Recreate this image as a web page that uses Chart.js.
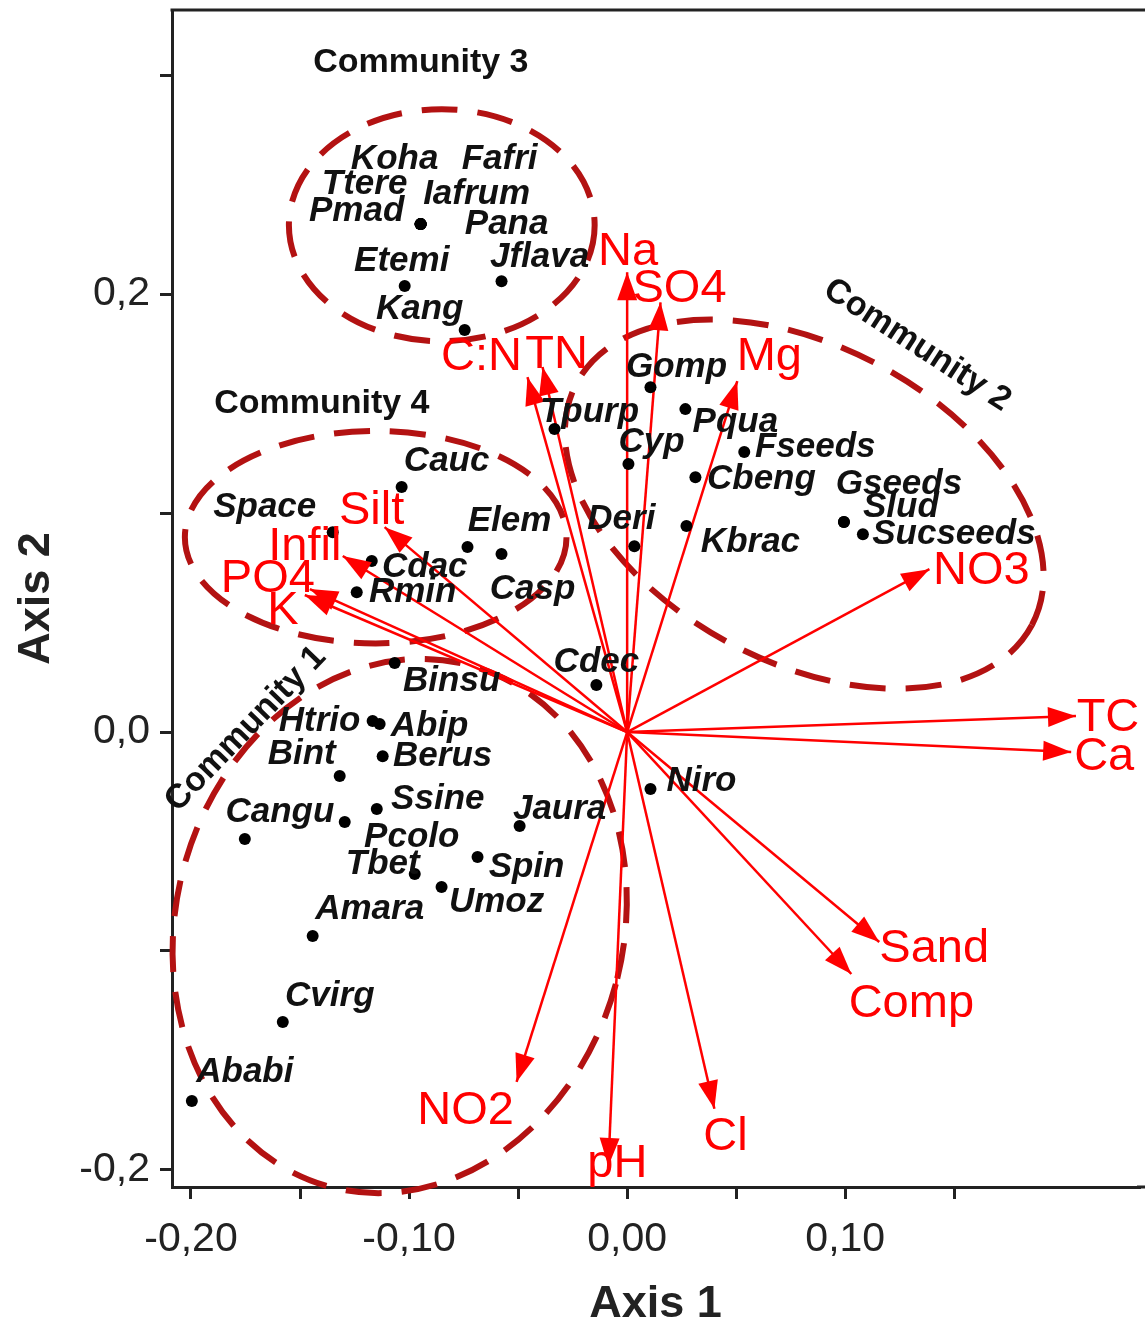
<!DOCTYPE html>
<html>
<head>
<meta charset="utf-8">
<title>CCA biplot</title>
<script src="https://cdn.jsdelivr.net/npm/chart.js@4.4.1/dist/chart.umd.min.js"></script>
<style>
  html, body { margin: 0; padding: 0; background: #fff; }
  #wrap { width: 1145px; height: 1327px; }
</style>
</head>
<body>
<div id="wrap"><canvas id="cca" width="1145" height="1327"></canvas></div>
<script>
// ---- species scores ----
const speciesNames = ['Koha', 'Fafri', 'Ttere', 'Iafrum', 'Pmad', 'Pana', 'Etemi', 'Jflava', 'Kang',
  'Cauc', 'Space', 'Elem', 'Casp', 'Cdac', 'Rmin',
  'Gomp', 'Tpurp', 'Pqua', 'Cyp', 'Fseeds', 'Cbeng', 'Deri', 'Kbrac', 'Gseeds', 'Slud', 'Sucseeds',
  'Binsu', 'Cdec', 'Htrio', 'Abip', 'Bint', 'Berus', 'Ssine', 'Cangu', 'Pcolo', 'Jaura', 'Tbet',
  'Spin', 'Umoz', 'Amara', 'Cvirg', 'Ababi', 'Niro'];
const speciesAxis1 = [-0.0947, -0.0947, -0.0947, -0.0947, -0.0947, -0.0947, -0.1020, -0.0576, -0.0745,
  -0.1034, -0.1350, -0.0732, -0.0576, -0.1171, -0.1240,
  0.0107, -0.0333, 0.0267, 0.0006, 0.0537, 0.0313, 0.0033, 0.0272, 0.0994, 0.0994, 0.1081,
  -0.1066, -0.0141, -0.1167, -0.1135, -0.1318, -0.1121, -0.1148, -0.1753, -0.1295, -0.0493, -0.0974,
  -0.0686, -0.0851, -0.1442, -0.1579, -0.1996, 0.0107];
const speciesAxis2 = [0.2320, 0.2320, 0.2320, 0.2320, 0.2320, 0.2320, 0.2037, 0.2059, 0.1836,
  0.1119, 0.0913, 0.0845, 0.0813, 0.0781, 0.0639,
  0.1575, 0.1384, 0.1475, 0.1224, 0.1279, 0.1164, 0.0849, 0.0941, 0.0959, 0.0959, 0.0904,
  0.0315, 0.0215, 0.0050, 0.0037, -0.0201, -0.0110, -0.0352, -0.0489, -0.0411, -0.0429, -0.0648,
  -0.0571, -0.0708, -0.0932, -0.1324, -0.1685, -0.0260];

// ---- environmental vectors (arrow tips) ----
const envNames = ['Na', 'SO4', 'Mg', 'C:N', 'TN', 'Silt', 'Infil', 'PO4', 'K', 'NO3',
  'TC', 'Ca', 'Sand', 'Comp', 'Cl', 'pH', 'NO2'];
const envAxis1 = [0.0000, 0.0153, 0.0505, -0.0457, -0.0388, -0.1112, -0.1304, -0.1455, -0.1478, 0.1386,
  0.2058, 0.2036, 0.1156, 0.1028, 0.0400, -0.0086, -0.0507];
const envAxis2 = [0.2100, 0.1963, 0.1603, 0.1621, 0.1667, 0.0936, 0.0804, 0.0653, 0.0626, 0.0744,
  0.0073, -0.0091, -0.0959, -0.1105, -0.1721, -0.1982, -0.1598];

// ---- community ellipses (centre, radii in axis units, tilt in degrees) ----
const communityNames = ['Community 1', 'Community 2', 'Community 3', 'Community 4'];
const communityCentre1 = [-0.1043, 0.0812, -0.0850, -0.1153];
const communityCentre2 = [-0.0886, 0.1041, 0.2315, 0.0890];
const communityRadius1 = [0.1026, 0.1182, 0.0701, 0.0875];
const communityRadius2 = [0.1233, 0.0721, 0.0530, 0.0485];
const communityTilt = [15, 28, 0, 0];
const communityLabel1 = [-0.1749, 0.1330, -0.0946, -0.1400];
const communityLabel2 = [0.0014, 0.1767, 0.3059, 0.1498];
const communityLabelAngle = [-46, 33, 0, 0];

// ---- axes ----
const xTickValues = [-0.20, -0.15, -0.10, -0.05, 0.00, 0.05, 0.10, 0.15];
const xTickLabels = ['-0,20', '', '-0,10', '', '0,00', '', '0,10', ''];
const yTickValues = [-0.2, -0.1, 0.0, 0.1, 0.2, 0.3];
const yTickLabels = ['-0,2', '', '0,0', '', '0,2', ''];

// label placement relative to the mark, in pixels (styling only)
const speciesNudge = {
  Koha: [-26, -65], Fafri: [79, -65], Ttere: [-56, -40], Iafrum: [56, -30], Pmad: [-64, -13],
  Pana: [86, 0], Etemi: [-3, -25], Jflava: [38, -24], Kang: [-45, -21],
  Cauc: [45, -26], Space: [-68, -25], Elem: [42, -26], Casp: [31, 35], Cdac: [53, 6], Rmin: [56, 0],
  Gomp: [26, -20], Tpurp: [35, -17], Pqua: [50, 13], Cyp: [23, -22], Fseeds: [71, -5],
  Cbeng: [66, 2], Deri: [-13, -27], Kbrac: [64, 16], Gseeds: [55, -38], Slud: [57, -15],
  Sucseeds: [91, 0], Binsu: [57, 18], Cdec: [0, -23], Htrio: [-53, 0], Abip: [50, 2],
  Bint: [-38, -22], Berus: [60, 0], Ssine: [61, -10], Cangu: [35, -27], Pcolo: [67, 15],
  Jaura: [40, -17], Tbet: [-32, -10], Spin: [49, 10], Umoz: [55, 15], Amara: [57, -27],
  Cvirg: [47, -26], Ababi: [53, -29], Niro: [51, -8]
};
const envNudge = {
  Na: [1, -20], SO4: [19, -13], Mg: [32, -24], 'C:N': [-46, -20], TN: [14, -12],
  Silt: [-13, -16], Infil: [-38, -9], PO4: [-42, -10], K: [-22, 16], NO3: [52, 2],
  TC: [32, 2], Ca: [33, 5], Sand: [55, 7], Comp: [60, 30], Cl: [11, 28], pH: [9, -2], NO2: [-51, 29]
};

const FONT = '"Liberation Sans", Arial, Helvetica, sans-serif';
const RED = '#ff0000';
const DARKRED = '#b31212';
const INK = '#222222';

const biplotDecor = {
  id: 'biplotDecor',
  beforeDatasetsDraw(chart) {
    const {ctx, scales: {x, y}} = chart;
    const pxX = Math.abs(x.getPixelForValue(1) - x.getPixelForValue(0));
    const pxY = Math.abs(y.getPixelForValue(0) - y.getPixelForValue(1));
    ctx.save();
    ctx.strokeStyle = DARKRED;
    ctx.lineWidth = 6;
    ctx.setLineDash([36, 20]);
    communityNames.forEach((name, i) => {
      ctx.beginPath();
      ctx.ellipse(x.getPixelForValue(communityCentre1[i]), y.getPixelForValue(communityCentre2[i]),
        communityRadius1[i] * pxX, communityRadius2[i] * pxY, communityTilt[i] * Math.PI / 180, 0, Math.PI * 2);
      ctx.stroke();
    });
    ctx.restore();
  },
  afterDatasetsDraw(chart) {
    const {ctx, scales: {x, y}} = chart;
    const ox = x.getPixelForValue(0), oy = y.getPixelForValue(0);
    ctx.save();
    // arrow heads
    ctx.fillStyle = RED;
    envNames.forEach((name, i) => {
      const tx = x.getPixelForValue(envAxis1[i]), ty = y.getPixelForValue(envAxis2[i]);
      const a = Math.atan2(ty - oy, tx - ox);
      const len = 28, half = 10;
      ctx.beginPath();
      ctx.moveTo(tx, ty);
      ctx.lineTo(tx - len * Math.cos(a) + half * Math.sin(a), ty - len * Math.sin(a) - half * Math.cos(a));
      ctx.lineTo(tx - len * Math.cos(a) - half * Math.sin(a), ty - len * Math.sin(a) + half * Math.cos(a));
      ctx.closePath();
      ctx.fill();
    });
    ctx.textAlign = 'center';
    ctx.textBaseline = 'middle';
    // species labels
    ctx.fillStyle = '#111';
    ctx.font = 'italic bold 35px ' + FONT;
    speciesNames.forEach((name, i) => {
      const d = speciesNudge[name] || [0, -25];
      ctx.fillText(name, x.getPixelForValue(speciesAxis1[i]) + d[0], y.getPixelForValue(speciesAxis2[i]) + d[1]);
    });
    // environmental labels
    ctx.fillStyle = RED;
    ctx.font = '47px ' + FONT;
    envNames.forEach((name, i) => {
      const d = envNudge[name] || [0, 0];
      ctx.fillText(name, x.getPixelForValue(envAxis1[i]) + d[0], y.getPixelForValue(envAxis2[i]) + d[1]);
    });
    // community names
    ctx.fillStyle = '#111';
    ctx.font = 'bold 34px ' + FONT;
    communityNames.forEach((name, i) => {
      ctx.save();
      ctx.translate(x.getPixelForValue(communityLabel1[i]), y.getPixelForValue(communityLabel2[i]));
      ctx.rotate(communityLabelAngle[i] * Math.PI / 180);
      ctx.fillText(name, 0, 0);
      ctx.restore();
    });
    ctx.restore();
  },
  afterDraw(chart) {
    // frame: top line, and carry the bottom axis line out to the canvas edge
    const {ctx, chartArea} = chart;
    ctx.save();
    ctx.strokeStyle = INK;
    ctx.lineWidth = 3;
    ctx.beginPath();
    ctx.moveTo(chartArea.left - 1.5, chartArea.top);
    ctx.lineTo(chart.width, chartArea.top);
    ctx.moveTo(chartArea.right - 2, chartArea.bottom);
    ctx.lineTo(chart.width, chartArea.bottom);
    ctx.stroke();
    ctx.restore();
  }
};

const datasets = [{
  label: 'species',
  data: speciesNames.map((n, i) => ({x: speciesAxis1[i], y: speciesAxis2[i]})),
  pointRadius: 6,
  pointBackgroundColor: '#000',
  pointBorderWidth: 0,
  order: 0
}];
envNames.forEach((name, i) => {
  datasets.push({
    type: 'line',
    label: name,
    data: [{x: 0, y: 0}, {x: envAxis1[i], y: envAxis2[i]}],
    borderColor: RED,
    borderWidth: 2.5,
    pointRadius: 0,
    fill: false,
    order: 1
  });
});

function noPad(s) { s.paddingTop = 0; s.paddingBottom = 0; s.paddingLeft = 0; s.paddingRight = 0; }

new Chart(document.getElementById('cca'), {
  type: 'scatter',
  data: {datasets: datasets},
  plugins: [biplotDecor],
  options: {
    responsive: false,
    devicePixelRatio: 1,
    animation: false,
    layout: {padding: {top: 10, right: 0, left: 0, bottom: 0}},
    plugins: {legend: {display: false}, tooltip: {enabled: false}},
    scales: {
      x: {
        type: 'linear',
        min: -0.2087,
        max: 0.2347,
        afterBuildTicks: s => { s.ticks = xTickValues.map(v => ({value: v})); },
        afterFit: s => { s.height = 140; noPad(s); },
        ticks: {
          autoSkip: false, maxRotation: 0, padding: 16,
          color: INK, font: {family: FONT, size: 41},
          callback: (v, i) => xTickLabels[i]
        },
        grid: {display: true, drawOnChartArea: false, drawTicks: true, tickLength: 12, color: INK, lineWidth: 3},
        border: {display: true, color: INK, width: 3},
        title: {display: true, text: 'Axis 1', color: INK, font: {family: FONT, size: 45, weight: 'bold', lineHeight: 1}, padding: {top: 0, bottom: 0}}
      },
      y: {
        type: 'linear',
        min: -0.2078,
        max: 0.3298,
        afterBuildTicks: s => { s.ticks = yTickValues.map(v => ({value: v})); },
        afterFit: s => { s.width = 172; noPad(s); },
        ticks: {
          autoSkip: false, padding: 10,
          color: INK, font: {family: FONT, size: 41},
          callback: (v, i) => yTickLabels[i]
        },
        grid: {display: true, drawOnChartArea: false, drawTicks: true, tickLength: 12, color: INK, lineWidth: 3},
        border: {display: true, color: INK, width: 3},
        title: {display: true, text: 'Axis 2', color: INK, font: {family: FONT, size: 45, weight: 'bold', lineHeight: 1}, padding: {top: 14, bottom: 0}}
      }
    }
  }
});
</script>
</body>
</html>
